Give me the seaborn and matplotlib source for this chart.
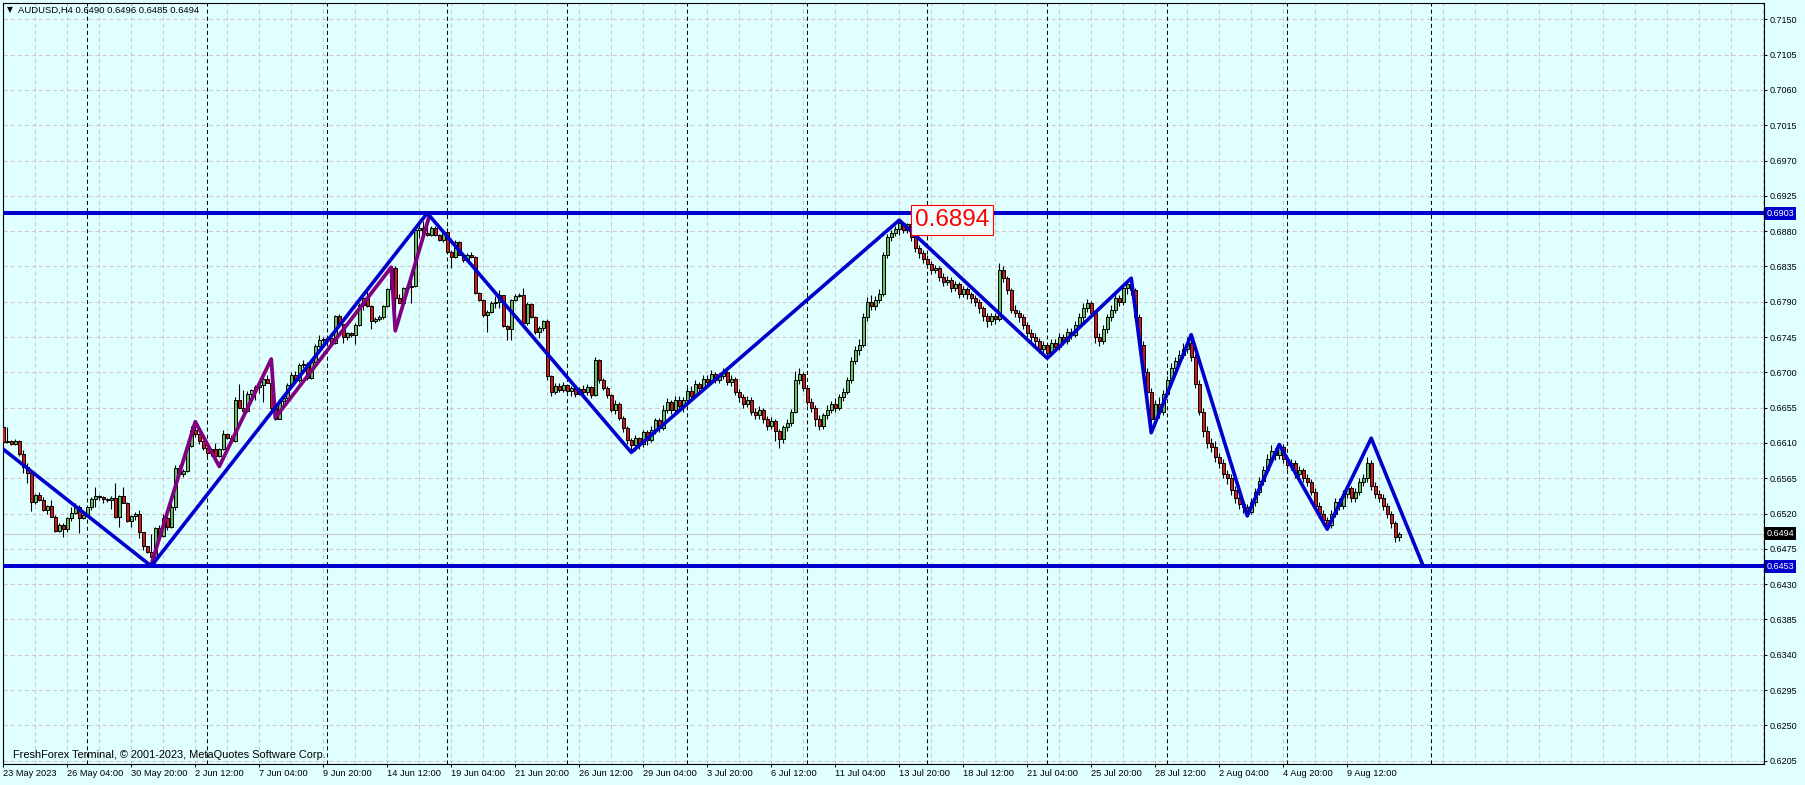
import matplotlib
matplotlib.use("Agg")
import matplotlib.pyplot as plt
import numpy as np
import pandas as pd
import seaborn as sns

# ---------------- data ----------------
symbol = "AUDUSD,H4"
first_open = 0.6630

closes = [
    0.6611, 0.6612, 0.6608, 0.6612, 0.6596, 0.6579, 0.6572, 0.6535, 0.6543, 0.6537,
    0.6524, 0.6529, 0.6516, 0.6498, 0.6505, 0.6500, 0.6514, 0.6521, 0.6528, 0.6514,
    0.6518, 0.6528, 0.6538, 0.6542, 0.6541, 0.6538, 0.6537, 0.6540, 0.6516, 0.6542,
    0.6534, 0.6510, 0.6517, 0.6520, 0.6496, 0.6478, 0.6471, 0.6464, 0.6502, 0.6491,
    0.6514, 0.6503, 0.6528, 0.6578, 0.6571, 0.6574, 0.6606, 0.6627, 0.6621, 0.6612,
    0.6604, 0.6597, 0.6602, 0.6593, 0.6602, 0.6621, 0.6616, 0.6612, 0.6665, 0.6655,
    0.6651, 0.6672, 0.6678, 0.6681, 0.6684, 0.6691, 0.6687, 0.6654, 0.6641, 0.6663,
    0.6667, 0.6684, 0.6697, 0.6690, 0.6709, 0.6711, 0.6693, 0.6713, 0.6733, 0.6741,
    0.6742, 0.6744, 0.6737, 0.6772, 0.6761, 0.6745, 0.6750, 0.6747, 0.6760, 0.6786,
    0.6795, 0.6784, 0.6765, 0.6768, 0.6770, 0.6784, 0.6806, 0.6833, 0.6795, 0.6789,
    0.6807, 0.6809, 0.6810, 0.6881, 0.6884, 0.6878, 0.6875, 0.6884, 0.6875, 0.6869,
    0.6879, 0.6854, 0.6847, 0.6866, 0.6850, 0.6843, 0.6850, 0.6847, 0.6801, 0.6792,
    0.6773, 0.6777, 0.6788, 0.6790, 0.6798, 0.6759, 0.6755, 0.6792, 0.6797, 0.6799,
    0.6763, 0.6787, 0.6771, 0.6751, 0.6756, 0.6765, 0.6695, 0.6675, 0.6683, 0.6678,
    0.6684, 0.6676, 0.6680, 0.6673, 0.6679, 0.6675, 0.6681, 0.6671, 0.6716, 0.6690,
    0.6680, 0.6671, 0.6652, 0.6660, 0.6642, 0.6629, 0.6614, 0.6607, 0.6616, 0.6608,
    0.6624, 0.6614, 0.6626, 0.6639, 0.6629, 0.6652, 0.6662, 0.6652, 0.6665, 0.6657,
    0.6665, 0.6676, 0.6670, 0.6685, 0.6680, 0.6692, 0.6688, 0.6698, 0.6690, 0.6695,
    0.6700, 0.6688, 0.6692, 0.6675, 0.6668, 0.6660, 0.6665, 0.6650, 0.6645, 0.6652,
    0.6640, 0.6632, 0.6638, 0.6625, 0.6615, 0.6630, 0.6636, 0.6650, 0.6690, 0.6698,
    0.6680, 0.6662, 0.6655, 0.6640, 0.6632, 0.6645, 0.6652, 0.6660, 0.6655, 0.6668,
    0.6675, 0.6690, 0.6715, 0.6728, 0.6735, 0.6770, 0.6790, 0.6785, 0.6792, 0.6800,
    0.6850, 0.6872, 0.6878, 0.6883, 0.6890, 0.6882, 0.6889, 0.6873, 0.6858, 0.6852,
    0.6845, 0.6838, 0.6830, 0.6833, 0.6822, 0.6815, 0.6818, 0.6808, 0.6812, 0.6800,
    0.6806, 0.6800, 0.6795, 0.6790, 0.6782, 0.6772, 0.6765, 0.6772, 0.6768, 0.6830,
    0.6820, 0.6805, 0.6780, 0.6775, 0.6770, 0.6760, 0.6750, 0.6745, 0.6740, 0.6730,
    0.6735, 0.6725, 0.6738, 0.6732, 0.6745, 0.6740, 0.6752, 0.6748, 0.6760, 0.6770,
    0.6782, 0.6788, 0.6775, 0.6745, 0.6740, 0.6755, 0.6770, 0.6780, 0.6795, 0.6790,
    0.6808, 0.6812, 0.6805, 0.6770, 0.6735, 0.6700, 0.6675, 0.6640, 0.6660, 0.6650,
    0.6672, 0.6690, 0.6705, 0.6715, 0.6722, 0.6730, 0.6738, 0.6720, 0.6685, 0.6650,
    0.6625, 0.6610, 0.6605, 0.6592, 0.6585, 0.6570, 0.6565, 0.6550, 0.6540, 0.6532,
    0.6528, 0.6522, 0.6535, 0.6548, 0.6562, 0.6575, 0.6590, 0.6600, 0.6595, 0.6605,
    0.6590, 0.6582, 0.6585, 0.6570, 0.6575, 0.6565, 0.6560, 0.6548, 0.6530, 0.6520,
    0.6512, 0.6505, 0.6520, 0.6535, 0.6530, 0.6545, 0.6552, 0.6540, 0.6548, 0.6560,
    0.6565, 0.6585, 0.6555, 0.6545, 0.6540, 0.6530, 0.6520, 0.6508, 0.6490, 0.6494,
]

highs = [
    0.6633, 0.6630, 0.6614, 0.6615, 0.6614, 0.6601, 0.6584, 0.6573, 0.6545, 0.6547,
    0.6541, 0.6531, 0.6537, 0.6518, 0.6508, 0.6508, 0.6516, 0.6528, 0.6533, 0.6531,
    0.6522, 0.6529, 0.6541, 0.6554, 0.6544, 0.6542, 0.6540, 0.6542, 0.6559, 0.6543,
    0.6554, 0.6535, 0.6518, 0.6522, 0.6524, 0.6497, 0.6479, 0.6494, 0.6503, 0.6505,
    0.6519, 0.6519, 0.6533, 0.6582, 0.6582, 0.6577, 0.6607, 0.6632, 0.6637, 0.6623,
    0.6613, 0.6607, 0.6603, 0.6610, 0.6603, 0.6626, 0.6623, 0.6620, 0.6669, 0.6685,
    0.6677, 0.6676, 0.6679, 0.6684, 0.6686, 0.6701, 0.6697, 0.6688, 0.6657, 0.6666,
    0.6671, 0.6687, 0.6700, 0.6702, 0.6712, 0.6716, 0.6713, 0.6715, 0.6736, 0.6747,
    0.6745, 0.6746, 0.6746, 0.6773, 0.6774, 0.6762, 0.6752, 0.6751, 0.6763, 0.6788,
    0.6796, 0.6807, 0.6786, 0.6770, 0.6773, 0.6786, 0.6807, 0.6835, 0.6836, 0.6800,
    0.6809, 0.6811, 0.6824, 0.6884, 0.6894, 0.6893, 0.6898, 0.6887, 0.6887, 0.6876,
    0.6881, 0.6884, 0.6856, 0.6869, 0.6867, 0.6851, 0.6852, 0.6853, 0.6848, 0.6802,
    0.6794, 0.6779, 0.6791, 0.6797, 0.6805, 0.6799, 0.6760, 0.6794, 0.6800, 0.6801,
    0.6808, 0.6790, 0.6788, 0.6772, 0.6759, 0.6767, 0.6768, 0.6697, 0.6686, 0.6686,
    0.6688, 0.6685, 0.6683, 0.6683, 0.6681, 0.6684, 0.6685, 0.6683, 0.6719, 0.6717,
    0.6693, 0.6683, 0.6672, 0.6665, 0.6662, 0.6644, 0.6631, 0.6616, 0.6620, 0.6618,
    0.6626, 0.6626, 0.6632, 0.6642, 0.6642, 0.6658, 0.6667, 0.6665, 0.6670, 0.6670,
    0.6669, 0.6680, 0.6682, 0.6690, 0.6688, 0.6697, 0.6696, 0.6703, 0.6700, 0.6699,
    0.6706, 0.6702, 0.6697, 0.6694, 0.6679, 0.6672, 0.6670, 0.6668, 0.6655, 0.6657,
    0.6654, 0.6644, 0.6643, 0.6640, 0.6628, 0.6633, 0.6640, 0.6653, 0.6702, 0.6705,
    0.6700, 0.6684, 0.6667, 0.6658, 0.6645, 0.6648, 0.6658, 0.6664, 0.6667, 0.6672,
    0.6680, 0.6694, 0.6720, 0.6733, 0.6742, 0.6775, 0.6796, 0.6798, 0.6797, 0.6806,
    0.6853, 0.6876, 0.6881, 0.6886, 0.6894, 0.6892, 0.6891, 0.6890, 0.6876, 0.6862,
    0.6856, 0.6849, 0.6842, 0.6837, 0.6836, 0.6826, 0.6823, 0.6821, 0.6816, 0.6815,
    0.6810, 0.6809, 0.6803, 0.6798, 0.6793, 0.6785, 0.6776, 0.6776, 0.6776, 0.6840,
    0.6835, 0.6823, 0.6808, 0.6786, 0.6780, 0.6774, 0.6764, 0.6755, 0.6750, 0.6744,
    0.6740, 0.6738, 0.6742, 0.6743, 0.6750, 0.6749, 0.6757, 0.6756, 0.6765, 0.6775,
    0.6788, 0.6794, 0.6791, 0.6778, 0.6750, 0.6760, 0.6774, 0.6786, 0.6800, 0.6799,
    0.6813, 0.6816, 0.6820, 0.6808, 0.6774, 0.6740, 0.6706, 0.6680, 0.6665, 0.6668,
    0.6677, 0.6695, 0.6712, 0.6720, 0.6728, 0.6738, 0.6745, 0.6748, 0.6724, 0.6690,
    0.6655, 0.6632, 0.6616, 0.6612, 0.6597, 0.6590, 0.6575, 0.6570, 0.6555, 0.6545,
    0.6537, 0.6532, 0.6540, 0.6553, 0.6567, 0.6580, 0.6596, 0.6607, 0.6604, 0.6610,
    0.6608, 0.6594, 0.6590, 0.6588, 0.6580, 0.6578, 0.6570, 0.6564, 0.6552, 0.6535,
    0.6524, 0.6516, 0.6524, 0.6540, 0.6540, 0.6550, 0.6558, 0.6555, 0.6552, 0.6565,
    0.6570, 0.6592, 0.6588, 0.6560, 0.6550, 0.6545, 0.6533, 0.6523, 0.6510, 0.6496,
]

lows = [
    0.6610, 0.6610, 0.6607, 0.6607, 0.6593, 0.6572, 0.6559, 0.6523, 0.6532, 0.6536,
    0.6523, 0.6519, 0.6515, 0.6497, 0.6496, 0.6490, 0.6496, 0.6510, 0.6519, 0.6495,
    0.6513, 0.6517, 0.6524, 0.6528, 0.6537, 0.6533, 0.6535, 0.6526, 0.6514, 0.6503,
    0.6533, 0.6509, 0.6503, 0.6512, 0.6489, 0.6473, 0.6470, 0.6463, 0.6457, 0.6490,
    0.6490, 0.6499, 0.6501, 0.6524, 0.6565, 0.6566, 0.6573, 0.6605, 0.6618, 0.6608,
    0.6601, 0.6593, 0.6593, 0.6591, 0.6592, 0.6601, 0.6615, 0.6611, 0.6611, 0.6654,
    0.6650, 0.6649, 0.6662, 0.6665, 0.6674, 0.6662, 0.6686, 0.6652, 0.6639, 0.6640,
    0.6657, 0.6662, 0.6680, 0.6686, 0.6688, 0.6705, 0.6690, 0.6691, 0.6711, 0.6732,
    0.6738, 0.6736, 0.6736, 0.6736, 0.6760, 0.6737, 0.6741, 0.6745, 0.6736, 0.6759,
    0.6779, 0.6783, 0.6755, 0.6763, 0.6765, 0.6768, 0.6783, 0.6804, 0.6754, 0.6788,
    0.6788, 0.6805, 0.6788, 0.6809, 0.6871, 0.6876, 0.6874, 0.6874, 0.6874, 0.6867,
    0.6866, 0.6853, 0.6833, 0.6846, 0.6849, 0.6841, 0.6842, 0.6846, 0.6800, 0.6791,
    0.6771, 0.6752, 0.6776, 0.6782, 0.6782, 0.6758, 0.6741, 0.6741, 0.6791, 0.6796,
    0.6762, 0.6760, 0.6769, 0.6749, 0.6744, 0.6753, 0.6690, 0.6670, 0.6672, 0.6675,
    0.6675, 0.6672, 0.6670, 0.6668, 0.6671, 0.6672, 0.6671, 0.6667, 0.6670, 0.6687,
    0.6677, 0.6667, 0.6649, 0.6647, 0.6639, 0.6624, 0.6609, 0.6600, 0.6600, 0.6602,
    0.6605, 0.6607, 0.6611, 0.6621, 0.6624, 0.6626, 0.6648, 0.6647, 0.6649, 0.6652,
    0.6650, 0.6660, 0.6666, 0.6668, 0.6674, 0.6678, 0.6682, 0.6685, 0.6686, 0.6687,
    0.6691, 0.6684, 0.6682, 0.6671, 0.6662, 0.6655, 0.6656, 0.6646, 0.6640, 0.6641,
    0.6635, 0.6626, 0.6628, 0.6612, 0.6603, 0.6610, 0.6625, 0.6632, 0.6648, 0.6685,
    0.6676, 0.6658, 0.6650, 0.6632, 0.6626, 0.6628, 0.6640, 0.6648, 0.6650, 0.6652,
    0.6664, 0.6672, 0.6687, 0.6710, 0.6722, 0.6732, 0.6765, 0.6779, 0.6780, 0.6788,
    0.6797, 0.6846, 0.6868, 0.6874, 0.6875, 0.6878, 0.6877, 0.6868, 0.6853, 0.6846,
    0.6840, 0.6833, 0.6825, 0.6826, 0.6816, 0.6810, 0.6811, 0.6803, 0.6804, 0.6795,
    0.6796, 0.6794, 0.6789, 0.6785, 0.6776, 0.6766, 0.6758, 0.6760, 0.6762, 0.6765,
    0.6815, 0.6800, 0.6776, 0.6770, 0.6764, 0.6755, 0.6745, 0.6740, 0.6734, 0.6725,
    0.6724, 0.6718, 0.6721, 0.6727, 0.6729, 0.6735, 0.6736, 0.6743, 0.6745, 0.6756,
    0.6766, 0.6777, 0.6770, 0.6738, 0.6733, 0.6736, 0.6750, 0.6766, 0.6776, 0.6784,
    0.6786, 0.6800, 0.6798, 0.6765, 0.6728, 0.6692, 0.6668, 0.6623, 0.6632, 0.6642,
    0.6646, 0.6668, 0.6685, 0.6700, 0.6710, 0.6718, 0.6725, 0.6714, 0.6680, 0.6645,
    0.6618, 0.6603, 0.6598, 0.6586, 0.6578, 0.6565, 0.6558, 0.6544, 0.6534, 0.6526,
    0.6521, 0.6517, 0.6519, 0.6530, 0.6543, 0.6556, 0.6570, 0.6585, 0.6588, 0.6590,
    0.6585, 0.6577, 0.6576, 0.6565, 0.6566, 0.6560, 0.6555, 0.6543, 0.6525, 0.6514,
    0.6506, 0.6500, 0.6501, 0.6516, 0.6525, 0.6526, 0.6540, 0.6535, 0.6535, 0.6544,
    0.6555, 0.6560, 0.6550, 0.6540, 0.6535, 0.6524, 0.6514, 0.6502, 0.6484, 0.6485,
]

x_label_bars = [0, 16, 32, 48, 64, 80, 96, 112, 128, 144, 160, 176, 192, 208, 224,
                240, 256, 272, 288, 304, 320, 336]
x_labels = ["23 May 2023", "26 May 04:00", "30 May 20:00", "2 Jun 12:00", "7 Jun 04:00",
            "9 Jun 20:00", "14 Jun 12:00", "19 Jun 04:00", "21 Jun 20:00", "26 Jun 12:00",
            "29 Jun 04:00", "3 Jul 20:00", "6 Jul 12:00", "11 Jul 04:00", "13 Jul 20:00",
            "18 Jul 12:00", "21 Jul 04:00", "25 Jul 20:00", "28 Jul 12:00", "2 Aug 04:00",
            "4 Aug 20:00", "9 Aug 12:00"]
y_ticks = [0.6205, 0.6250, 0.6295, 0.6340, 0.6385, 0.6430, 0.6475, 0.6520, 0.6565,
           0.6610, 0.6655, 0.6700, 0.6745, 0.6790, 0.6835, 0.6880, 0.6925, 0.6970,
           0.7015, 0.7060, 0.7105, 0.7150]
separator_bars = [21, 51, 81, 111, 141, 171, 201, 231, 261, 291, 321, 357]

blue_bars = [-1, 37, 106, 157, 224, 261, 282, 287, 297, 311, 319, 331, 342, 355]
blue_prices = [0.6606, 0.6453, 0.6903, 0.6598, 0.6894, 0.6718, 0.6820, 0.6623,
               0.6748, 0.6517, 0.6608, 0.6500, 0.6616, 0.6453]
purple_bars = [37, 48, 54, 67, 68, 97, 98, 106.5]
purple_prices = [0.6455, 0.6637, 0.6580, 0.6717, 0.6642, 0.6834, 0.6753, 0.6899]

resistance = 0.6903
support = 0.6453
peak_bar = 224
peak_label = 0.6894

# ---------------- style ----------------
sns.set_style("white")
plt.rcParams["font.family"] = ["Liberation Sans", "DejaVu Sans"]
plt.rcParams["lines.scale_dashes"] = False

BG = "#E0FFFF"
GRID = "#D2C6CA"
GREEN = "#5EC25E"
RED = "#DA1414"
BLUE = "#0000CD"
PURPLE = "#800080"
DASH = (0, (2.9, 2.2))

W, H = 1805, 785
fig = plt.figure(figsize=(W / 100, H / 100), dpi=100, facecolor=BG)
ax = fig.add_axes([2.5 / W, 1 - 764 / H, (1764 - 2.5) / W, (764 - 2.7) / H])
ax.set_facecolor(BG)

opens = [first_open] + closes[:-1]
df = pd.DataFrame({"open": opens, "high": highs, "low": lows, "close": closes})
df["bar"] = np.arange(len(df))
df["bottom"] = df[["open", "close"]].min(axis=1)
df["height"] = (df["close"] - df["open"]).abs()
up = df["close"] >= df["open"]

# grid
ax.set_axisbelow(True)
ax.set_yticks(y_ticks)
ax.set_yticklabels([f"{v:.4f}" for v in y_ticks])
ax.yaxis.grid(True, color=GRID, lw=0.75, ls=DASH)
ax.set_xticks(x_label_bars)
ax.set_xticklabels(x_labels, ha="left")
ax.set_xticks(np.arange(0, 441, 8), minor=True)
ax.xaxis.remove_overlapping_locs = False
ax.xaxis.grid(True, which="minor", color=GRID, lw=0.75, ls=DASH)
ax.xaxis.grid(False, which="major")

# weekly separators
for b in separator_bars:
    ax.axvline(b, color="black", lw=0.75, ls=DASH, zorder=1)

# bid line
ax.axhline(closes[-1], color="#C8C8C8", lw=0.75, zorder=1)

# candles
ax.vlines(df["bar"], df["low"], df["high"], color="black", lw=0.8, zorder=2)
ax.bar(df.loc[up, "bar"], df.loc[up, "height"], bottom=df.loc[up, "bottom"], width=0.8,
       color=GREEN, edgecolor="black", linewidth=0.7, zorder=3)
ax.bar(df.loc[~up, "bar"], df.loc[~up, "height"], bottom=df.loc[~up, "bottom"], width=0.8,
       color=RED, edgecolor="black", linewidth=0.7, zorder=3)

# horizontal levels
ax.axhline(resistance, color=BLUE, lw=2.9, zorder=4)
ax.axhline(support, color=BLUE, lw=2.9, zorder=4)

# zigzags
sns.lineplot(x=purple_bars, y=purple_prices, sort=False, estimator=None, color=PURPLE,
             lw=2.7, ax=ax, zorder=4)
sns.lineplot(x=blue_bars, y=blue_prices, sort=False, estimator=None, color=BLUE,
             lw=2.6, ax=ax, zorder=5)

ax.set_xlim(-0.2, 440.2)
ax.set_ylim(0.62007, 0.71712)
ax.set_xlabel("")
ax.set_ylabel("")

# axes look
for s in ax.spines.values():
    s.set_visible(True)
    s.set_color("black")
    s.set_linewidth(0.8)
ax.yaxis.tick_right()
ax.tick_params(axis="y", which="major", direction="out", length=2.4, width=0.7,
               pad=2.0, labelsize=6.5, colors="black", right=True, left=False)
ax.tick_params(axis="x", which="major", direction="out", length=2.4, width=0.7,
               pad=1.5, labelsize=6.7, colors="black", bottom=True)
ax.tick_params(axis="x", which="minor", length=0)

# price tags on the right axis
for lvl, fc in [(resistance, BLUE), (support, BLUE), (closes[-1], "black")]:
    ax.annotate(f"{lvl:.4f}", xy=(1, lvl), xycoords=("axes fraction", "data"),
                xytext=(2.0, 0), textcoords="offset points", ha="left", va="center",
                fontsize=6.5, color="white", zorder=8, annotation_clip=False,
                bbox=dict(boxstyle="square,pad=0.22", fc=fc, ec="none"))

# peak label
ax.annotate(f"{peak_label:.4f}", xy=(peak_bar, peak_label), xytext=(38, 0),
            textcoords="offset points", ha="center", va="center", fontsize=17.5,
            color="red", zorder=9,
            bbox=dict(boxstyle="square,pad=0.16", fc="#F2FFFF", ec="red", lw=0.8))

# header and footer
fig.text(7 / W, 1 - 10 / H, "\u25BC", fontsize=5.5, family="DejaVu Sans",
         va="center", ha="left", color="black")
header = f"{symbol} {opens[-1]:.4f} {highs[-1]:.4f} {lows[-1]:.4f} {closes[-1]:.4f}"
fig.text(18 / W, 1 - 10 / H, header, fontsize=6.8, va="center", ha="left", color="black")
fig.text(13 / W, 1 - 755 / H, "FreshForex Terminal, \u00A9 2001-2023, MetaQuotes Software Corp.",
         fontsize=7.9, va="center", ha="left", color="black", zorder=10)

fig.savefig("out.png", dpi=100, facecolor=BG)
